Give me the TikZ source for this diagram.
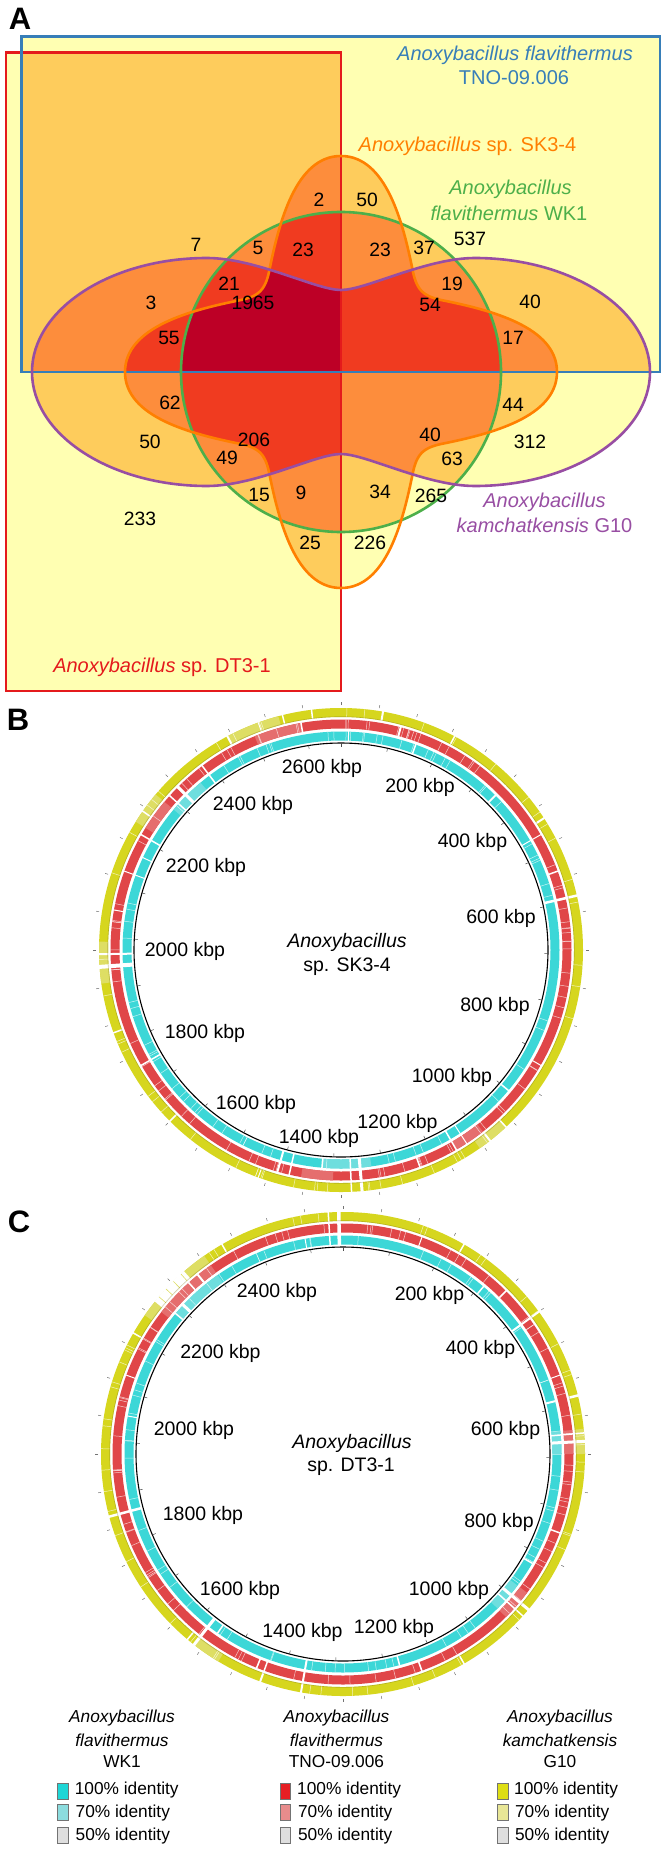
\documentclass[tikz,border=0pt]{standalone}
\usepackage{fontspec}
\setmainfont{Liberation Sans}
\definecolor{vA}{HTML}{FFFFB2}
\definecolor{vB}{HTML}{FECC5C}
\definecolor{vC}{HTML}{FD8D3C}
\definecolor{vD}{HTML}{F03B20}
\definecolor{vE}{HTML}{BD0026}
\definecolor{sRed}{HTML}{E41A1C}
\definecolor{sBlue}{HTML}{377EB8}
\definecolor{sGreen}{HTML}{4DAF4A}
\definecolor{sPurple}{HTML}{984EA3}
\definecolor{sOrange}{HTML}{FF7F00}
\definecolor{cyR}{RGB}{60,215,215}
\definecolor{cyL}{RGB}{110,222,222}
\definecolor{rdR}{RGB}{224,70,72}
\definecolor{rdL}{RGB}{229,110,110}
\definecolor{ylR}{RGB}{214,214,30}
\definecolor{ylL}{RGB}{222,222,100}
\definecolor{lgC1}{RGB}{30,214,214}
\definecolor{lgC2}{RGB}{140,220,222}
\definecolor{lgR1}{RGB}{230,30,35}
\definecolor{lgR2}{RGB}{232,140,140}
\definecolor{lgY1}{RGB}{222,222,20}
\definecolor{lgY2}{RGB}{232,230,150}
\definecolor{lgG}{RGB}{222,222,222}
\newcommand\vR{(-335,-319.5) rectangle (0,319)}
\newcommand\vB{(-319.5,-335.5) rectangle (319,0)}
\newcommand\vG{(0,0) circle[radius=160]}
\newcommand\vO{(0,-216) .. controls (-45,-216) and (-62,-150) .. (-72,-100) .. controls (-76,-82) and (-82,-76) .. (-100,-72) .. controls (-150,-62) and (-216,-45) .. (-216,0) .. controls (-216,45) and (-150,62) .. (-100,72) .. controls (-82,76) and (-76,82) .. (-72,100) .. controls (-62,150) and (-45,216) .. (0,216) .. controls (45,216) and (62,150) .. (72,100) .. controls (76,82) and (82,76) .. (100,72) .. controls (150,62) and (216,45) .. (216,0) .. controls (216,-45) and (150,-62) .. (100,-72) .. controls (82,-76) and (76,-82) .. (72,-100) .. controls (62,-150) and (45,-216) .. (0,-216) -- cycle}
\newcommand\vP{(-309,0) .. controls (-309,-63) and (-230,-114) .. (-134,-114) .. controls (-85,-114) and (-25,-82) .. (0,-82) .. controls (25,-82) and (85,-114) .. (134,-114) .. controls (230,-114) and (309,-63) .. (309,0) .. controls (309,63) and (230,114) .. (134,114) .. controls (85,114) and (25,82) .. (0,82) .. controls (-25,82) and (-85,114) .. (-134,114) .. controls (-230,114) and (-309,63) .. (-309,0) -- cycle}
\newcommand\twofill[3]{\begin{scope}\clip #1;\fill[#3] #2;\end{scope}}
\newcommand\threefill[4]{\begin{scope}\clip #1;\clip #2;\fill[#4] #3;\end{scope}}
\newcommand\fourfill[5]{\begin{scope}\clip #1;\clip #2;\clip #3;\fill[#5] #4;\end{scope}}
\newcommand\arcseg[5]{\draw[#2, line width=#5] (#3:#1) arc[start angle=#3, end angle=#4, radius=#1];}
\newcommand\rgap[4]{\draw[white, line width=#2] (#1:#3) -- (#1:#4);}
\begin{document}
\begin{tikzpicture}[x=1pt,y=-1pt,
  num/.style={font=\fontsize{19.3}{22}\selectfont, inner sep=0pt},
  lab/.style={font=\fontsize{20}{23}\selectfont, inner sep=0pt},
  kbp/.style={font=\fontsize{19.5}{22}\selectfont, inner sep=0pt},
  leg/.style={font=\fontsize{17.3}{20}\selectfont, inner sep=0pt},
  panel/.style={font=\fontsize{31}{34}\selectfont\bfseries, inner sep=0pt},
  outline/.style={line width=2.6pt},
  legbox/.style={draw=black!55, line width=0.8pt, minimum width=10.5pt, minimum height=16pt, inner sep=0pt},
  ring/.style={line width=9pt}]
\useasboundingbox (0,0) rectangle (668,1851);
\fill[white] (0,0) rectangle (668,1851);

% ================= Panel A: Venn =================
\begin{scope}[shift={(341,372)}]
  \fill[vA] \vR; \fill[vA] \vB; \fill[vA] \vG; \fill[vA] \vO; \fill[vA] \vP;
  \twofill{\vR}{\vB}{vB}\twofill{\vR}{\vG}{vB}\twofill{\vR}{\vO}{vB}\twofill{\vR}{\vP}{vB}
  \twofill{\vB}{\vG}{vB}\twofill{\vB}{\vO}{vB}\twofill{\vB}{\vP}{vB}
  \twofill{\vG}{\vO}{vB}\twofill{\vG}{\vP}{vB}\twofill{\vO}{\vP}{vB}
  \threefill{\vR}{\vB}{\vG}{vC}\threefill{\vR}{\vB}{\vO}{vC}\threefill{\vR}{\vB}{\vP}{vC}
  \threefill{\vR}{\vG}{\vO}{vC}\threefill{\vR}{\vG}{\vP}{vC}\threefill{\vR}{\vO}{\vP}{vC}
  \threefill{\vB}{\vG}{\vO}{vC}\threefill{\vB}{\vG}{\vP}{vC}\threefill{\vB}{\vO}{\vP}{vC}
  \threefill{\vG}{\vO}{\vP}{vC}
  \fourfill{\vR}{\vB}{\vG}{\vO}{vD}\fourfill{\vR}{\vB}{\vG}{\vP}{vD}\fourfill{\vR}{\vB}{\vO}{\vP}{vD}
  \fourfill{\vR}{\vG}{\vO}{\vP}{vD}\fourfill{\vB}{\vG}{\vO}{\vP}{vD}
  \begin{scope}\clip \vR;\clip \vB;\clip \vG;\clip \vO;\fill[vE] \vP;\end{scope}
  \draw[outline, sRed] \vR;
  \draw[outline, sBlue] \vB;
  \draw[outline, sGreen] \vG;
  \draw[outline, sOrange] \vO;
  \draw[outline, sPurple] \vP;
\end{scope}

\node[panel] (pA) at (20,19) {A};
\node[lab, text=sBlue] (lTa) at (515,55) {\itshape Anoxybacillus flavithermus};
\node[lab, text=sBlue] (lTb) at (514,78) {TNO-09.006};
\node[lab, text=sOrange] (lS) at (467.5,146) {\itshape Anoxybacillus\/\upshape{} sp. SK3-4};
\node[lab, text=sGreen] (lWa) at (510.5,189) {\itshape Anoxybacillus};
\node[lab, text=sGreen] (lWb) at (509,213) {\itshape flavithermus\/\upshape{} WK1};
\node[lab, text=sPurple] (lGa) at (544.5,502) {\itshape Anoxybacillus};
\node[lab, text=sPurple] (lGb) at (544.5,525) {\itshape kamchatkensis\/\upshape{} G10};
\node[lab, text=sRed] (lD) at (162,667) {\itshape Anoxybacillus\/\upshape{} sp. DT3-1};

\node[num] (n1) at (319,200) {2};
\node[num] (n2) at (367,200) {50};
\node[num] (n3) at (196,245) {7};
\node[num] (n4) at (258,248) {5};
\node[num] (n5) at (303,250) {23};
\node[num] (n6) at (380,250) {23};
\node[num] (n7) at (424,248) {37};
\node[num] (n8) at (470,239) {537};
\node[num] (n9) at (229,284) {21};
\node[num] (n10) at (452,284) {19};
\node[num] (n11) at (151,303) {3};
\node[num] (n12) at (253,303) {1965};
\node[num] (n13) at (430,305) {54};
\node[num] (n14) at (530,302) {40};
\node[num] (n15) at (169,338) {55};
\node[num] (n16) at (513,338) {17};
\node[num] (n17) at (170,403) {62};
\node[num] (n18) at (513,405) {44};
\node[num] (n19) at (150,442) {50};
\node[num] (n20) at (254,440) {206};
\node[num] (n21) at (430,435) {40};
\node[num] (n22) at (530,442) {312};
\node[num] (n23) at (227,458) {49};
\node[num] (n24) at (452,459) {63};
\node[num] (n25) at (259,495) {15};
\node[num] (n26) at (301,493) {9};
\node[num] (n27) at (380,492) {34};
\node[num] (n28) at (431,496) {265};
\node[num] (n29) at (140,519) {233};
\node[num] (n30) at (310,543) {25};
\node[num] (n31) at (370,543) {226};

% ================= Panel B =================
\pgfmathsetseed{11}
\begin{scope}[shift={(341,950)}, yscale=-1]
  \draw[cyR, ring] (0,0) circle[radius=214];
  \draw[rdR, ring] (0,0) circle[radius=226];
  \draw[ylR, ring] (0,0) circle[radius=237.5];
  \foreach \a/\b in {130/140,-95/-82}{\arcseg{214}{cyL}{\a}{\b}{9}}
  \foreach \a/\b in {100/112,140/148,-100/-92,-60/-52}{\arcseg{226}{rdL}{\a}{\b}{9}}
  \foreach \a/\b in {105/118,140/148,178/188,-55/-47}{\arcseg{237.5}{ylL}{\a}{\b}{9}}
  \foreach \i in {1,...,70}{\pgfmathsetmacro\ang{360*rnd}\draw[white, opacity=.7, line width=.5pt] (\ang:209.5) -- (\ang:218.5);}
  \foreach \i in {1,...,90}{\pgfmathsetmacro\ang{360*rnd}\draw[white, opacity=.7, line width=.5pt] (\ang:221.5) -- (\ang:230.5);}
  \foreach \i in {1,...,50}{\pgfmathsetmacro\ang{360*rnd}\draw[white, opacity=.7, line width=.5pt] (\ang:233) -- (\ang:242);}
  \foreach \a/\w in {184/4,181/2,13/2.5,-85/3,-87.5/1.5}{\rgap{\a}{\w}{208.8}{242.6}}
  \foreach \a/\w in {135/3,138/1.5,127/1.5,-106/2,-103/1.5,-150/1.5,150/1.5,160/1,30/1,-60/1.5,-57/1}{\rgap{\a}{\w}{208.8}{231}}
  \foreach \a/\w in {80/2,33/2,62/1.5,-52/2,-47/1.5,118/2,145/1.5,200/1.5,225/1.5,250/1,97/1.5,110/1,104/1.5}{\rgap{\a}{\w}{232.5}{242.6}}
  \foreach \a/\w in {75/2,100/1.5,20/1.5,-30/1,-70/1.5,170/1}{\rgap{\a}{\w}{221}{231}}
  \foreach \a/\w in {88/1,70/1.5,45/1.5,-40/1.5,-95/1.5,155/1}{\rgap{\a}{\w}{208.8}{219}}
  \draw[olive!80!black, opacity=.35, line width=.6pt] (0,0) circle[radius=233.3];
  \draw[black, line width=1.1pt] (0,0) circle[radius=207];
  \foreach \a in {0,9,...,351}{\draw[black!55, line width=.5pt] (\a:245) -- (\a:248);}
  \foreach \k in {0,...,27}{\draw[black!70, line width=.5pt] (90-13*\k:203.5) -- (90-13*\k:207);}
\end{scope}
\node[panel] (pB) at (18,720) {B};
\node[kbp] (b1) at (322,768) {2600 kbp};
\node[kbp] (b2) at (420,787) {200 kbp};
\node[kbp] (b3) at (253,805) {2400 kbp};
\node[kbp] (b4) at (472.5,842) {400 kbp};
\node[kbp] (b5) at (206,867) {2200 kbp};
\node[kbp] (b6) at (501,918) {600 kbp};
\node[kbp] (b7) at (185,951) {2000 kbp};
\node[kbp] (b8) at (495,1006) {800 kbp};
\node[kbp] (b9) at (205,1033) {1800 kbp};
\node[kbp] (b10) at (452,1077) {1000 kbp};
\node[kbp] (b11) at (256,1104) {1600 kbp};
\node[kbp] (b12) at (397.5,1123) {1200 kbp};
\node[kbp] (b13) at (319,1138) {1400 kbp};
\node[kbp] (bNa) at (347,942) {\itshape Anoxybacillus};
\node[kbp] (bNb) at (347,967) {sp. SK3-4};

% ================= Panel C =================
\pgfmathsetseed{29}
\begin{scope}[shift={(343,1454)}, yscale=-1]
  \draw[cyR, ring] (0,0) circle[radius=214];
  \draw[rdR, ring] (0,0) circle[radius=226];
  \draw[ylR, ring] (0,0) circle[radius=237.5];
  \foreach \a/\b in {125/140,0/6,-45/-37}{\arcseg{214}{cyL}{\a}{\b}{9}}
  \foreach \a/\b in {125/142,-45/-37,0/6}{\arcseg{226}{rdL}{\a}{\b}{9}}
  \foreach \a/\b in {125/131,141/145,-128/-121,0/6}{\arcseg{237.5}{ylL}{\a}{\b}{9}}
  \foreach \i in {1,...,70}{\pgfmathsetmacro\ang{360*rnd}\draw[white, opacity=.7, line width=.5pt] (\ang:209.5) -- (\ang:218.5);}
  \foreach \i in {1,...,90}{\pgfmathsetmacro\ang{360*rnd}\draw[white, opacity=.7, line width=.5pt] (\ang:221.5) -- (\ang:230.5);}
  \foreach \i in {1,...,50}{\pgfmathsetmacro\ang{360*rnd}\draw[white, opacity=.7, line width=.5pt] (\ang:233) -- (\ang:242);}
  \arcseg{237.5}{white}{131}{141}{10}
  \foreach \a in {132,134.5,137,139.5}{\draw[ylL, line width=.6pt] (\a:233) -- (\a:242);}
  \foreach \a/\w in {91/3.5,93.5/1.5,3/3,5/1.5,-40/3,-42/1.5,195/2.5,-128/3,-100/2,36/2}{\rgap{\a}{\w}{208.8}{242.6}}
  \foreach \a/\w in {14/2.5,150/1.5,-60/1.5,-110/2,120/1.5,60/1.5,230/1.5}{\rgap{\a}{\w}{232.5}{242.6}}
  \foreach \a/\w in {129/2,132/1.5,45/1.5,70/1,20/1,-20/1.5,-70/1.5,160/1,250/1.5,-112/1.5}{\rgap{\a}{\w}{221}{231}}
  \foreach \a/\w in {137/3,140/1.5,14/2,50/1.5,100/1,-30/1.5,-75/1.5,170/1,235/1.5}{\rgap{\a}{\w}{208.8}{219}}
  \draw[olive!80!black, opacity=.35, line width=.6pt] (0,0) circle[radius=233.3];
  \draw[black, line width=1.1pt] (0,0) circle[radius=207];
  \foreach \a in {0,9,...,351}{\draw[black!55, line width=.5pt] (\a:245) -- (\a:248);}
  \foreach \k in {0,...,27}{\draw[black!70, line width=.5pt] (90-13*\k:203.5) -- (90-13*\k:207);}
\end{scope}
\node[panel] (pC) at (19,1222) {C};
\node[kbp] (c1) at (277,1292) {2400 kbp};
\node[kbp] (c2) at (429.5,1295) {200 kbp};
\node[kbp] (c3) at (220.5,1353) {2200 kbp};
\node[kbp] (c4) at (480.5,1349) {400 kbp};
\node[kbp] (c5) at (194,1430) {2000 kbp};
\node[kbp] (c6) at (505.5,1430) {600 kbp};
\node[kbp] (c7) at (203,1515) {1800 kbp};
\node[kbp] (c8) at (499,1522) {800 kbp};
\node[kbp] (c9) at (240,1590) {1600 kbp};
\node[kbp] (c10) at (449,1590) {1000 kbp};
\node[kbp] (c11) at (302.5,1632) {1400 kbp};
\node[kbp] (c12) at (394,1628) {1200 kbp};
\node[kbp] (cNa) at (352,1443) {\itshape Anoxybacillus};
\node[kbp] (cNb) at (351,1467) {sp. DT3-1};

% ================= Legend =================
\node[leg] (g1a) at (122,1718) {\itshape Anoxybacillus};
\node[leg] (g1b) at (122,1740) {\itshape flavithermus};
\node[leg] (g1c) at (122,1762) {WK1};
\node[leg] (g2a) at (336.5,1718) {\itshape Anoxybacillus};
\node[leg] (g2b) at (336.5,1740) {\itshape flavithermus};
\node[leg] (g2c) at (336.5,1762) {TNO-09.006};
\node[leg] (g3a) at (560,1718) {\itshape Anoxybacillus};
\node[leg] (g3b) at (560,1740) {\itshape kamchatkensis};
\node[leg] (g3c) at (560,1762) {G10};

\node[legbox, fill=lgC1] (k11) at (62.75,1791) {};
\node[legbox, fill=lgC2] (k12) at (62.75,1812.5) {};
\node[legbox, fill=lgG] (k13) at (62.75,1835.5) {};
\node[legbox, fill=lgR1] (k21) at (285.5,1791) {};
\node[legbox, fill=lgR2] (k22) at (285.5,1812.5) {};
\node[legbox, fill=lgG] (k23) at (285.5,1835.5) {};
\node[legbox, fill=lgY1] (k31) at (502.9,1791) {};
\node[legbox, fill=lgY2] (k32) at (502.9,1812.5) {};
\node[legbox, fill=lgG] (k33) at (502.9,1835.5) {};

\node[leg, anchor=west] (t11) at (74.6,1790) {100\% identity};
\node[leg, anchor=west] (t12) at (75.5,1813) {70\% identity};
\node[leg, anchor=west] (t13) at (75.5,1836) {50\% identity};
\node[leg, anchor=west] (t21) at (297,1790) {100\% identity};
\node[leg, anchor=west] (t22) at (297.9,1813) {70\% identity};
\node[leg, anchor=west] (t23) at (297.9,1836) {50\% identity};
\node[leg, anchor=west] (t31) at (514,1790) {100\% identity};
\node[leg, anchor=west] (t32) at (514.9,1813) {70\% identity};
\node[leg, anchor=west] (t33) at (514.9,1836) {50\% identity};
\end{tikzpicture}
\end{document}
